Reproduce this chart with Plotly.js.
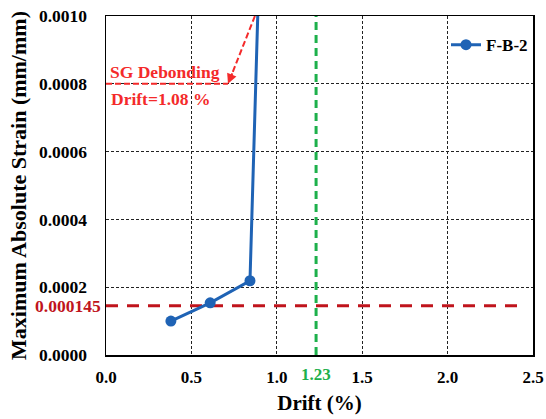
<!DOCTYPE html>
<html><head><meta charset="utf-8">
<script src="https://cdn.plot.ly/plotly-3.0.1.min.js"></script>
<style>html,body{margin:0;padding:0;background:#fff}#chart{width:546px;height:419px}</style>
</head><body><div id="chart"></div>
<script>
// Data
const drift = [0.38, 0.61, 0.843, 0.90];
const strain = [0.000100, 0.000154, 0.000219, 0.00120];
const seriesName = 'F-B-2';
const limitStrain = 0.000145;
const limitX = [0, 2.44];
const drift123 = 1.23;
const ymax = 0.001;
const debondY = 0.0008;
const debondLineX = [0, 0.714];
const debondArrowTail = [0.872, 0.001];
const xTicks = [0, 0.5, 1.0, 1.5, 2.0, 2.5];
const xTickText = ['0.0', '0.5', '1.0', '1.5', '2.0', '2.5'];
const yTicks = [0, 0.0002, 0.0004, 0.0006, 0.0008, 0.0010];
const yTickText = ['0.0000', '0.0002', '0.0004', '0.0006', '0.0008', '0.0010'];

const F = 'Liberation Serif, Times New Roman, serif';
const traces = [
  {x: limitX, y: [limitStrain, limitStrain], mode: 'lines', showlegend: false, hoverinfo: 'skip',
   line: {color: '#C0141C', width: 3, dash: '12px,9px'}},
  {x: [drift123, drift123], y: [0, ymax], mode: 'lines', showlegend: false, hoverinfo: 'skip',
   line: {color: '#1DB04B', width: 3, dash: '8px,5px'}},
  {x: debondLineX, y: [debondY, debondY], mode: 'lines', showlegend: false, hoverinfo: 'skip',
   line: {color: '#F42A2A', width: 2, dash: '6px,3px'}},
  {x: [debondArrowTail[0], debondLineX[1] + 0.01], y: [debondArrowTail[1], debondY + 0.000012], mode: 'lines', showlegend: false, hoverinfo: 'skip',
   line: {color: '#F42A2A', width: 2, dash: '6px,3px'}},
  {x: drift, y: strain, mode: 'lines+markers', name: seriesName,
   line: {color: '#1F63B5', width: 3}, marker: {color: '#1F63B5', size: 11}}
];

const layout = {
  width: 546, height: 419,
  margin: {l: 106, r: 13, t: 16, b: 64},
  paper_bgcolor: '#fff', plot_bgcolor: '#fff',
  font: {family: F, color: '#000', size: 17},
  showlegend: true,
  legend: {x: 1, xanchor: 'right', y: 0.914, yanchor: 'middle', bgcolor: 'rgba(0,0,0,0)',
           font: {family: F, size: 17, weight: 'bold'}},
  xaxis: {range: [0, 2.5], tickvals: xTicks, ticktext: xTickText, ticks: '',
          showgrid: true, gridcolor: '#222', gridwidth: 1, griddash: '3px,2px',
          showline: true, linecolor: '#000', linewidth: 1.5, mirror: true, zeroline: false,
          tickfont: {family: F, size: 17, weight: 'bold'}, ticklabelstandoff: 6,
          automargin: false,
          title: {text: 'Drift (%)', font: {family: F, size: 21, weight: 'bold'}, standoff: 9}},
  yaxis: {range: [0, ymax], tickvals: yTicks, ticktext: yTickText, ticks: '',
          showgrid: true, gridcolor: '#222', gridwidth: 1, griddash: '3px,2px',
          showline: true, linecolor: '#000', linewidth: 1.5, mirror: true, zeroline: false,
          tickfont: {family: F, size: 17.5, weight: 'bold'}, ticklabelstandoff: 14,
          automargin: false,
          title: {text: 'Maximum Absolute Strain (mm/mm)', font: {family: F, size: 22, weight: 'bold'}, standoff: 6}},
  annotations: [
    {x: debondLineX[1], y: debondY, xref: 'x', yref: 'y', ax: 5, ay: -12, axref: 'pixel', ayref: 'pixel',
     showarrow: true, arrowhead: 2, arrowsize: 1, arrowwidth: 2, arrowcolor: '#F42A2A', text: ''},
    {x: 0.01, y: debondY, xref: 'x', yref: 'y', xanchor: 'left', yanchor: 'bottom', yshift: 0,
     text: 'SG Debonding', showarrow: false, font: {family: F, size: 17.5, color: '#F42A2A', weight: 'bold'}},
    {x: 0.02, y: debondY, xref: 'x', yref: 'y', xanchor: 'left', yanchor: 'top', yshift: -3,
     text: 'Drift=1.08 %', showarrow: false, font: {family: F, size: 17.5, color: '#F42A2A', weight: 'bold'}},
    {x: 0, y: limitStrain, xref: 'paper', yref: 'y', xanchor: 'right', yanchor: 'middle', xshift: -3,
     text: '0.000145', showarrow: false, font: {family: F, size: 17.5, color: '#C0141C', weight: 'bold'}},
    {x: drift123, y: 0, xref: 'x', yref: 'paper', xanchor: 'center', yanchor: 'top', yshift: -8,
     text: '1.23', showarrow: false, font: {family: F, size: 17, color: '#1DB04B', weight: 'bold'}}
  ]
};
Plotly.newPlot('chart', traces, layout, {displayModeBar: false, staticPlot: true});
</script></body></html>
